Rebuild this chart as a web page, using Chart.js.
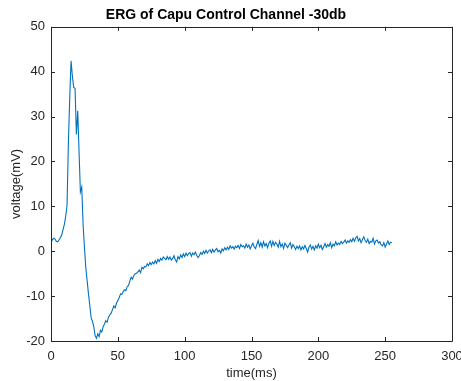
<!DOCTYPE html>
<html>
<head>
<meta charset="utf-8">
<script src="https://cdn.jsdelivr.net/npm/chart.js@4/dist/chart.umd.min.js"></script>
<style>
    html, body { margin: 0; padding: 0; background: #fff; }
    #wrap { width: 461px; height: 381px; }
</style>
</head>
<body>
<div id="wrap"><canvas id="erg"></canvas></div>
<script>
// ERG trace, one sample per ms (0..255)
const timeMs = Array.from({ length: 256 }, (_, i) => i);
const voltage = [
    3.0, 2.5, 2.9, 2.7, 2.2, 2.1, 2.5, 3.0, 3.6, 4.8,
    6.0, 7.8, 10.2, 24.0, 34.0, 42.4, 39.0, 36.5, 36.3, 26.0,
    31.3, 22.0, 13.2, 14.3, 6.0, 1.0, -3.5, -6.5, -9.4, -12.0,
    -14.8, -15.6, -16.8, -18.8, -19.4, -18.4, -19.0, -17.6, -18.0, -16.8,
    -16.2, -15.5, -15.8, -14.7, -14.2, -13.8, -13.0, -12.2, -12.6, -11.6,
    -11.0, -10.4, -9.5, -9.6, -9.0, -8.6, -8.8, -7.9, -7.6, -6.6,
    -5.8, -6.2, -5.4, -5.0, -4.9, -4.6, -4.2, -4.8, -3.6, -3.9,
    -3.4, -3.5, -2.8, -3.2, -2.5, -3.0, -2.4, -2.8, -2.1, -2.7,
    -1.8, -2.3, -1.6, -2.0, -1.3, -1.6, -1.9, -1.2, -1.8, -1.3,
    -2.0, -1.6, -1.0, -1.9, -2.4, -1.2, -1.7, -0.8, -1.4, -0.6,
    -1.2, -0.4, -1.0, -0.5, -0.3, -1.1, -0.4, -0.8, -0.2, -0.9,
    -1.4, -1.0, -0.3, -0.7, 0.0, -0.5, 0.2, -0.4, 0.1, 0.3,
    -0.3, 0.4, -0.2, 0.3, 0.6, -0.1, 0.2, -0.4, 0.5, 0.1,
    0.8, 0.3, 0.9, 0.4, 1.2, 0.7, 1.0, 0.5, 1.1, 0.8,
    1.3, 0.6, 1.5, 1.0, 1.2, 0.7, 1.6, 0.9, 1.4, 0.5,
    1.2, 1.8, 1.0, 0.6, 1.5, 2.4, 1.1, 1.9, 0.9, 2.1,
    1.2, 1.7, 0.8, 1.8, 2.3, 1.1, 2.2, 1.3, 2.0, 1.6,
    0.9, 2.2, 1.0, 1.6, 0.6, 1.8, 1.3, 0.8, 1.4, 1.9,
    0.7, 1.5, 1.0, 0.4, 1.1, 0.6, 1.2, 0.3, 1.0, 0.5,
    1.3, 0.6, -0.2, 0.9, 1.4, 0.5, 1.1, 0.3, 1.2, 0.7,
    1.6, 0.8, 1.3, 0.4, 1.0, 1.7, 0.9, 1.5, 1.1, 1.9,
    0.8, 1.6, 1.2, 2.1, 1.4, 1.8, 1.5, 2.2, 1.7, 2.0,
    2.5, 1.8, 2.3, 2.0, 2.6, 2.1, 2.9, 2.2, 3.0, 3.3,
    2.3, 2.8, 1.9, 2.6, 3.2, 2.4, 2.0, 2.7, 1.7, 2.2,
    2.0, 2.9, 1.6, 2.3, 2.5, 1.8, 2.1, 1.4, 1.2, 1.9,
    0.9, 1.6, 2.3, 1.5, 2.0, 1.9
];
const xTicks = [0, 50, 100, 150, 200, 250, 300];
const yTicks = [-20, -10, 0, 10, 20, 30, 40, 50];

const AXIS_COLOR = '#262626';
const FONT = 'Arial, "Liberation Sans", Helvetica, sans-serif';

// matlab-style box with inward ticks
const boxPlugin = {
    id: 'box',
    afterDraw(chart) {
        const { ctx, chartArea: a, scales: { x, y } } = chart;
        ctx.save();
        ctx.strokeStyle = AXIS_COLOR;
        ctx.lineWidth = 1;
        ctx.beginPath();
        ctx.rect(Math.round(a.left) + 0.5, Math.round(a.top) + 0.5,
                 Math.round(a.right - a.left), Math.round(a.bottom - a.top));
        const len = 4;
        xTicks.forEach(v => {
            const px = Math.round(x.getPixelForValue(v)) + 0.5;
            ctx.moveTo(px, a.bottom); ctx.lineTo(px, a.bottom - len);
            ctx.moveTo(px, a.top);    ctx.lineTo(px, a.top + len);
        });
        yTicks.forEach(v => {
            const py = Math.round(y.getPixelForValue(v)) + 0.5;
            ctx.moveTo(a.left, py);  ctx.lineTo(a.left + len, py);
            ctx.moveTo(a.right, py); ctx.lineTo(a.right - len, py);
        });
        ctx.stroke();
        ctx.restore();
    }
};

new Chart(document.getElementById('erg').getContext('2d'), {
    type: 'line',
    data: {
        datasets: [{
            data: timeMs.map((t, i) => ({ x: t, y: voltage[i] })),
            borderColor: '#0072BD', borderWidth: 1.1,
            pointRadius: 0, tension: 0, fill: false
        }]
    },
    options: {
        responsive: true, maintainAspectRatio: false, animation: false,
        layout: { padding: { top: 0, right: 9, bottom: 0, left: 0 } },
        plugins: {
            legend: { display: false },
            tooltip: { enabled: false },
            title: {
                display: true,
                text: 'ERG of Capu Control Channel -30db',
                color: '#000', font: { family: FONT, size: 14, weight: 'bold' },
                padding: { top: 7, bottom: 3 }
            }
        },
        scales: {
            x: {
                type: 'linear', min: 0, max: 300,
                afterBuildTicks: s => { s.ticks = xTicks.map(v => ({ value: v })); },
                grid: { display: false, drawTicks: false },
                border: { display: false },
                ticks: { color: AXIS_COLOR, font: { family: FONT, size: 13 }, padding: 8, maxRotation: 0 },
                title: { display: true, text: 'time(ms)', color: AXIS_COLOR,
                         font: { family: FONT, size: 13 }, padding: { top: 0, bottom: 0 } },
                afterFit: s => { s.height = 40; s.paddingRight = 0; s.paddingLeft = 0; }
            },
            y: {
                type: 'linear', min: -20, max: 50,
                afterBuildTicks: s => { s.ticks = yTicks.map(v => ({ value: v })); },
                grid: { display: false, drawTicks: false },
                border: { display: false },
                ticks: { color: AXIS_COLOR, font: { family: FONT, size: 13 }, padding: 6 },
                title: { display: true, text: 'voltage(mV)', color: AXIS_COLOR,
                         font: { family: FONT, size: 13 }, padding: { top: 9, bottom: 0 } },
                afterFit: s => { s.width = 51; s.paddingTop = 0; s.paddingBottom = 0; }
            }
        }
    },
    plugins: [boxPlugin]
});
</script>
</body>
</html>
